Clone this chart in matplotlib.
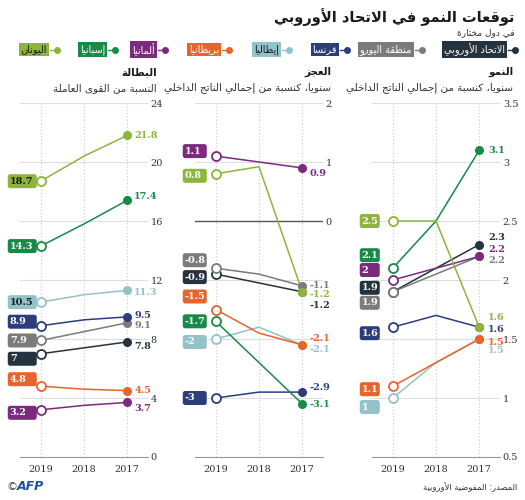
import matplotlib.pyplot as plt
import matplotlib.transforms as mtransforms
from matplotlib.patches import FancyBboxPatch
from matplotlib.lines import Line2D

# presentation forms: isolated code point, number of forms (iso, fin, ini, med)
FORMS = {
    'آ': (0xFE81, 2), 'أ': (0xFE83, 2), 'ؤ': (0xFE85, 2), 'إ': (0xFE87, 2),
    'ئ': (0xFE89, 4), 'ا': (0xFE8D, 2), 'ب': (0xFE8F, 4), 'ة': (0xFE93, 2),
    'ت': (0xFE95, 4), 'ث': (0xFE99, 4), 'ج': (0xFE9D, 4), 'ح': (0xFEA1, 4),
    'خ': (0xFEA5, 4), 'د': (0xFEA9, 2), 'ذ': (0xFEAB, 2), 'ر': (0xFEAD, 2),
    'ز': (0xFEAF, 2), 'س': (0xFEB1, 4), 'ش': (0xFEB5, 4), 'ص': (0xFEB9, 4),
    'ض': (0xFEBD, 4), 'ط': (0xFEC1, 4), 'ظ': (0xFEC5, 4), 'ع': (0xFEC9, 4),
    'غ': (0xFECD, 4), 'ف': (0xFED1, 4), 'ق': (0xFED5, 4), 'ك': (0xFED9, 4),
    'ل': (0xFEDD, 4), 'م': (0xFEE1, 4), 'ن': (0xFEE5, 4), 'ه': (0xFEE9, 4),
    'و': (0xFEED, 2), 'ى': (0xFEEF, 2), 'ي': (0xFEF1, 4),
}
LAM_ALEF = {'ا': 0xFEFB, 'أ': 0xFEF7, 'إ': 0xFEF9, 'آ': 0xFEF5}


def ar(text):
    # matplotlib has no arabic shaping, so join letters by hand and flip the order
    out = []
    i = 0
    while i < len(text):
        c = text[i]
        if c not in FORMS:
            out.append(c)
            i += 1
            continue
        prev = text[i - 1] if i > 0 else ''
        join_prev = prev in FORMS and FORMS[prev][1] == 4
        if c == 'ل' and i + 1 < len(text) and text[i + 1] in LAM_ALEF:
            out.append(chr(LAM_ALEF[text[i + 1]] + (1 if join_prev else 0)))
            i += 2
            continue
        base, n = FORMS[c]
        nxt = text[i + 1] if i + 1 < len(text) else ''
        join_next = n == 4 and nxt in FORMS
        if join_prev and join_next:
            form = 3
        elif join_prev:
            form = 1
        elif join_next:
            form = 2
        else:
            form = 0
        out.append(chr(base + form))
        i += 1
    return ''.join(reversed(out))


# ---- data ----
years = [2019, 2018, 2017]
countries = ['الاتحاد الأوروبي', 'منطقة اليورو', 'فرنسا', 'إيطاليا',
             'بريطانيا', 'ألمانيا', 'إسبانيا', 'اليونان']
colors = ['#25333f', '#7b7b7b', '#2c3d7e', '#93c2cb',
          '#e8642c', '#7b2a7d', '#188a48', '#8db43b']

# values for 2019, 2018, 2017 per country (same order as countries)
growth = [[1.9, 2.1, 2.3], [1.9, 2.05, 2.2], [1.6, 1.7, 1.6], [1.0, 1.3, 1.5],
          [1.1, 1.3, 1.5], [2.0, 2.1, 2.2], [2.1, 2.5, 3.1], [2.5, 2.5, 1.6]]
deficit = [[-0.9, -1.05, -1.2], [-0.8, -0.9, -1.1], [-3.0, -2.9, -2.9], [-2.0, -1.8, -2.1],
           [-1.5, -1.9, -2.1], [1.1, 1.0, 0.9], [-1.7, -2.4, -3.1], [0.8, 0.92, -1.2]]
unemployment = [[7.0, 7.4, 7.8], [7.9, 8.5, 9.1], [8.9, 9.3, 9.5], [10.5, 11.0, 11.3],
                [4.8, 4.6, 4.5], [3.2, 3.5, 3.7], [14.3, 15.8, 17.4], [18.7, 20.4, 21.8]]

# ---- label nudges in pixels (positive = down) ----
nudge_left_growth = [-4, 11, 6, 9, 3, -10, -13, 0]
nudge_right_growth = [-7, 4, 2, 11, 3, -7, 0, -10]
nudge_left_deficit = [3, -8, 0, 3, -13, -5, 0, 2]
nudge_right_deficit = [14, 0, -5, 5, -6, 6, 1, 3]
nudge_left_unemp = [5, 0, -4, 0, -7, 3, 0, 0]
nudge_right_unemp = [5, 3, -1, 2, 0, 6, -4, 0]

W, H = 525, 500
fig = plt.figure(figsize=(W / 100, H / 100), dpi=100)

SERIF = 'DejaVu Serif'
ARFONT = 'DejaVu Sans'


def px(x, y):
    return x / W, 1 - y / H


panels = [
    # left px, values, ylim, ticks, shown tick labels, box width, dark text on light boxes
    dict(x0=372, vals=growth, ylim=(0.5, 3.5), ticks=[0.5, 1, 1.5, 2, 2.5, 3, 3.5],
         show=None, boxw=20, dark=False, nl=nudge_left_growth, nr=nudge_right_growth, rdx=9),
    dict(x0=195, vals=deficit, ylim=(-4, 2), ticks=[-4, -3, -2, -1, 0, 1, 2],
         show=[0, 1, 2], boxw=24, dark=False, nl=nudge_left_deficit, nr=nudge_right_deficit, rdx=7),
    dict(x0=20, vals=unemployment, ylim=(0, 24), ticks=[0, 4, 8, 12, 16, 20, 24],
         show=None, boxw=29, dark=True, nl=nudge_left_unemp, nr=nudge_right_unemp, rdx=7),
]

top, bottom = 103, 457
for p in panels:
    l, b = px(p['x0'], bottom)
    ax = fig.add_axes([l, b, 128 / W, (bottom - top) / H])
    ax.set_xlim(2019.48, 2016.52)
    ax.set_ylim(*p['ylim'])
    ax.set_yticks(p['ticks'])
    if p['show'] is not None:
        ax.set_yticklabels([f'{t:g}' if t in p['show'] else '' for t in p['ticks']])
    else:
        ax.set_yticklabels([f'{t:g}' for t in p['ticks']])
    ax.yaxis.tick_right()
    ax.set_xticks(years)
    ax.set_xticklabels([str(y) for y in years])
    ax.tick_params(axis='y', length=0, pad=2, labelsize=7, labelcolor='#333333')
    ax.tick_params(axis='x', length=0, pad=6, labelsize=7, labelcolor='#333333')
    for lab in ax.get_xticklabels() + ax.get_yticklabels():
        lab.set_fontfamily(SERIF)
    for s in ['top', 'left', 'right']:
        ax.spines[s].set_visible(False)
    ax.spines['bottom'].set_color('#999999')
    ax.grid(axis='y', color='#dedede', lw=0.8)
    ax.grid(axis='x', color='#c8c8c8', lw=0.8, ls=(0, (1, 2)))
    ax.set_axisbelow(True)
    if p['ylim'][0] < 0 < p['ylim'][1]:
        ax.axhline(0, color='#555555', lw=1, zorder=1)

    for i, (vals, col) in enumerate(zip(p['vals'], colors)):
        ax.plot(years, vals, color=col, lw=1.1, zorder=3)
        ax.plot(years[0], vals[0], 'o', ms=6.5, mfc='white', mec=col, mew=1.3, zorder=4)
        ax.plot(years[-1], vals[-1], 'o', ms=5.5, color=col, zorder=4)

        # box label on the 2019 side
        trans = mtransforms.Affine2D().scale(fig.dpi / 100) + \
            mtransforms.ScaledTranslation(years[0], vals[0], ax.transData)
        dy = -p['nl'][i]
        box = FancyBboxPatch((-33, dy - 7), p['boxw'], 14,
                             boxstyle='round,pad=0,rounding_size=2.5',
                             fc=col, ec='none', transform=trans, clip_on=False, zorder=5)
        ax.add_artist(box)
        tc = '#1a1a1a' if (p['dark'] and col in ('#93c2cb', '#8db43b')) else 'white'
        ax.text(-31, dy, f'{vals[0]:g}', transform=trans, ha='left', va='center',
                fontsize=7, fontweight='bold', fontfamily=SERIF, color=tc,
                zorder=6, clip_on=False)

        # plain label on the 2017 side
        ax.annotate(f'{vals[-1]:g}', xy=(years[-1], vals[-1]),
                    xytext=(p['rdx'], -p['nr'][i]), textcoords='offset pixels',
                    ha='left', va='center', fontsize=7, fontweight='bold',
                    fontfamily=SERIF, color=col, annotation_clip=False, zorder=6)

# ---- titles ----
fig.text(*px(515, 17), ar('توقعات النمو في الاتحاد الأوروبي'), ha='right', va='center',
         fontsize=10.5, fontweight='bold', fontfamily=ARFONT, color='#1a1a1a')
fig.text(*px(515, 33), ar('في دول مختارة'), ha='right', va='center',
         fontsize=6.5, fontfamily=ARFONT, color='#333333')

heads = [(513, 'النمو', 'سنويا، كنسبة من إجمالي الناتج الداخلي'),
         (331, 'العجز', 'سنويا، كنسبة من إجمالي الناتج الداخلي'),
         (157, 'البطالة', 'النسبة من القوى العاملة')]
for x, h, sub in heads:
    fig.text(*px(x, 72), ar(h), ha='right', va='center', fontsize=7.5,
             fontweight='bold', fontfamily=ARFONT, color='#1a1a1a')
    fig.text(*px(x, 88), ar(sub), ha='right', va='center', fontsize=7.5,
             fontfamily=ARFONT, color='#333333')

# ---- legend ----
leg_right = [508, 415, 340, 282, 222, 158, 108, 50]
for name, col, xr in zip(countries, colors, leg_right):
    tc = '#1a1a1a' if col in ('#93c2cb', '#8db43b') else 'white'
    fig.text(*px(xr - 3, 49.5), ar(name), ha='right', va='center', fontsize=7,
             fontfamily=ARFONT, color=tc,
             bbox=dict(boxstyle='square,pad=0.2', fc=col, ec='none'))
    x1, y1 = px(xr, 49.5)
    x2, _ = px(xr + 7, 49.5)
    fig.add_artist(Line2D([x1, x2], [y1, y1], color=col, lw=1))
    fig.add_artist(Line2D([x2], [y1], marker='o', ms=4, color=col))

# ---- footer ----
fig.text(*px(517, 487), ar('المصدر: المفوضية الأوروبية'), ha='right', va='center',
         fontsize=6, fontfamily=ARFONT, color='#333333')
fig.text(*px(6, 487), '©', ha='left', va='center', fontsize=8, color='#444444')
fig.text(*px(17, 487), 'AFP', ha='left', va='center', fontsize=9, fontweight='bold',
         fontstyle='italic', color='#1f4fa3')

fig.savefig('out.png', dpi=100)
